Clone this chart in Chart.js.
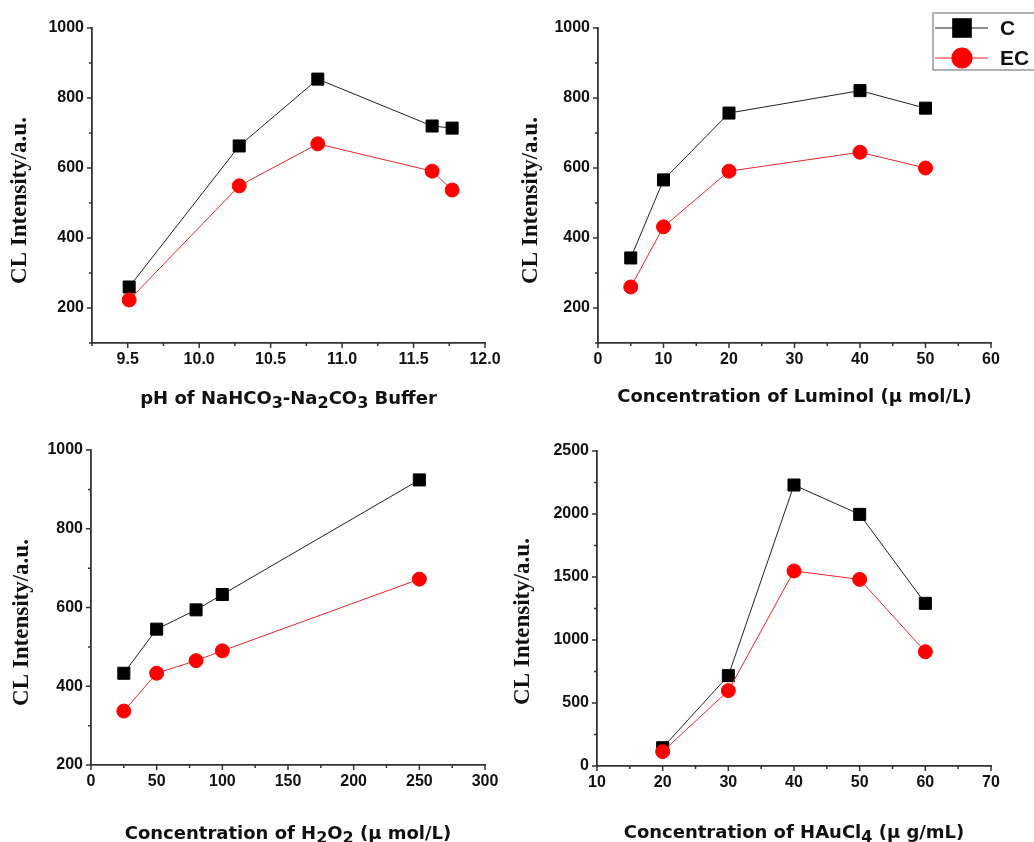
<!DOCTYPE html>
<html>
<head>
<meta charset="utf-8">
<script src="https://cdn.jsdelivr.net/npm/chart.js@4.4.1/dist/chart.umd.min.js"></script>
<style>
  body { margin: 0; background: #fff; }
  #wrap { position: relative; width: 1034px; height: 842px; overflow: hidden; background: #fff; }
  canvas { position: absolute; }
</style>
</head>
<body>
<div id="wrap">
  <canvas id="c1" width="517" height="420" style="left:0;top:0"></canvas>
  <canvas id="c3" width="517" height="422" style="left:0;top:420px"></canvas>
  <canvas id="c2" width="534" height="420" style="left:500px;top:0"></canvas>
  <canvas id="c4" width="534" height="422" style="left:500px;top:420px"></canvas>
</div>
<script>
// series names
var seriesNames = ['C', 'EC'];

// pH of buffer
var phX = [9.51, 10.28, 10.83, 11.63, 11.77];
var phC = [260, 663, 854, 720, 714];
var phEC = [223, 549, 669, 591, 537];
var phXTicks = [9.5, 10.0, 10.5, 11.0, 11.5, 12.0];
var phXMinor = [9.25, 9.75, 10.25, 10.75, 11.25, 11.75];

// luminol
var lumX = [5, 10, 20, 40, 50];
var lumC = [343, 566, 757, 821, 771];
var lumEC = [260, 432, 591, 645, 600];
var lumXTicks = [0, 10, 20, 30, 40, 50, 60];
var lumXMinor = [5, 15, 25, 35, 45, 55];

// top row y ticks
var topYTicks = [200, 400, 600, 800, 1000];
var topYMinor = [100, 300, 500, 700, 900];

// H2O2
var h2o2X = [25, 50, 80, 100, 250];
var h2o2C = [433, 545, 594, 633, 924];
var h2o2EC = [337, 433, 465, 490, 672];
var h2o2XTicks = [0, 50, 100, 150, 200, 250, 300];
var h2o2XMinor = [25, 75, 125, 175, 225, 275];
var h2o2YTicks = [200, 400, 600, 800, 1000];
var h2o2YMinor = [300, 500, 700, 900];

// HAuCl4
var hauX = [20, 30, 40, 50, 60];
var hauC = [145, 717, 2230, 1997, 1291];
var hauEC = [114, 598, 1548, 1481, 907];
var hauXTicks = [10, 20, 30, 40, 50, 60, 70];
var hauXMinor = [15, 25, 35, 45, 55, 65];
var hauYTicks = [0, 500, 1000, 1500, 2000, 2500];
var hauYMinor = [250, 750, 1250, 1750, 2250];

var yTitle = 'CL Intensity/a.u.';
// x titles as [text, isSubscript] pieces
var xTitle1 = [['pH of NaHCO', 0], ['3', 1], ['-Na', 0], ['2', 1], ['CO', 0], ['3', 1], [' Buffer', 0]];
var xTitle2 = [['Concentration of Luminol (\u03bc mol/L)', 0]];
var xTitle3 = [['Concentration of H', 0], ['2', 1], ['O', 0], ['2', 1], [' (\u03bc mol/L)', 0]];
var xTitle4 = [['Concentration of HAuCl', 0], ['4', 1], [' (\u03bc g/mL)', 0]];

var tickFont = { family: '"Liberation Sans", Arial, sans-serif', size: 16, weight: 'bold' };
var axisColor = '#333';

function pts(xs, ys) {
    return xs.map(function (x, i) { return { x: x, y: ys[i] }; });
}

// draws minor/major tick marks, axis titles and (optionally) the legend
var decor = {
    id: 'decor',
    afterDraw: function (chart, args, o) {
        var ctx = chart.ctx, a = chart.chartArea, xs = chart.scales.x, ys = chart.scales.y;
        ctx.save();
        ctx.strokeStyle = axisColor;
        ctx.lineWidth = 1.5;
        ctx.beginPath();
        xs.ticks.forEach(function (t) {
            var px = xs.getPixelForValue(t.value);
            ctx.moveTo(px, a.bottom); ctx.lineTo(px, a.bottom + 5);
        });
        o.xMinor.forEach(function (v) {
            var px = xs.getPixelForValue(v);
            ctx.moveTo(px, a.bottom); ctx.lineTo(px, a.bottom + 3);
        });
        ys.ticks.forEach(function (t) {
            var py = ys.getPixelForValue(t.value);
            ctx.moveTo(a.left, py); ctx.lineTo(a.left - 5, py);
        });
        o.yMinor.forEach(function (v) {
            var py = ys.getPixelForValue(v);
            ctx.moveTo(a.left, py); ctx.lineTo(a.left - 3, py);
        });
        ctx.stroke();

        // y title
        ctx.fillStyle = '#111';
        ctx.font = 'bold 23px "Liberation Serif", "Times New Roman", serif';
        ctx.textAlign = 'center';
        ctx.textBaseline = 'middle';
        ctx.translate(a.left + o.yTitleDx, (a.top + a.bottom) / 2 + o.yTitleDy);
        ctx.rotate(-Math.PI / 2);
        ctx.fillText(yTitle, 0, 0);
        ctx.setTransform(1, 0, 0, 1, 0, 0);

        // x title with subscripts
        var big = 'bold 18px "DejaVu Sans", Verdana, sans-serif';
        var small = 'bold 16px "DejaVu Sans", Verdana, sans-serif';
        var w = 0;
        o.xTitle.forEach(function (p) {
            ctx.font = p[1] ? small : big;
            w += ctx.measureText(p[0]).width;
        });
        var x = (a.left + a.right) / 2 - w / 2;
        var base = a.bottom + o.xTitleDy;
        ctx.textAlign = 'left';
        ctx.textBaseline = 'alphabetic';
        o.xTitle.forEach(function (p) {
            ctx.font = p[1] ? small : big;
            ctx.fillText(p[0], x, base + (p[1] ? 4 : 0));
            x += ctx.measureText(p[0]).width;
        });

        if (o.legend) {
            var L = o.legend;
            ctx.strokeStyle = '#999';
            ctx.lineWidth = 1.5;
            ctx.strokeRect(L.x, L.y, 140, 57);
            chart.data.datasets.forEach(function (ds, i) {
                var cy = L.y + 15 + i * 30;
                ctx.strokeStyle = ds.borderColor;
                ctx.lineWidth = 1.2;
                ctx.beginPath();
                ctx.moveTo(L.x + 2, cy); ctx.lineTo(L.x + 55, cy);
                ctx.stroke();
                ctx.fillStyle = ds.pointBackgroundColor;
                ctx.strokeStyle = ds.pointBackgroundColor;
                Chart.helpers.drawPoint(ctx, {
                    pointStyle: ds.pointStyle,
                    radius: ds.pointStyle === 'rect' ? 13 : 10,
                    borderWidth: 1,
                    rotation: 0
                }, L.x + 29, cy);
                ctx.fillStyle = '#111';
                ctx.font = 'bold 21px "Liberation Sans", Arial, sans-serif';
                ctx.textAlign = 'left';
                ctx.textBaseline = 'middle';
                ctx.fillText(ds.label, L.x + 67, cy + 1);
            });
        }
        ctx.restore();
    }
};

function makeChart(id, xs, cVals, ecVals, xr, yr, xTicks, yTicks, extra, padding) {
    var xDecimals = extra.xDecimals || 0;
    return new Chart(document.getElementById(id), {
        type: 'line',
        data: {
            datasets: [{
                label: seriesNames[0],
                data: pts(xs, cVals),
                borderColor: '#222',
                borderWidth: 1,
                pointStyle: 'rect',
                pointRadius: 8.5,
                pointBackgroundColor: '#000',
                pointBorderColor: '#000',
                pointBorderWidth: 1,
                order: 2
            }, {
                label: seriesNames[1],
                data: pts(xs, ecVals),
                borderColor: '#e8262b',
                borderWidth: 1,
                pointStyle: 'circle',
                pointRadius: 7,
                pointBackgroundColor: '#ff0000',
                pointBorderColor: '#ff0000',
                pointBorderWidth: 1,
                order: 1
            }]
        },
        options: {
            responsive: false,
            animation: false,
            layout: { padding: padding },
            plugins: {
                legend: { display: false },
                tooltip: { enabled: false },
                decor: extra
            },
            scales: {
                x: {
                    type: 'linear',
                    min: xr[0], max: xr[1],
                    grid: { display: false, drawTicks: false },
                    border: { display: true, color: axisColor, width: 1.8 },
                    afterBuildTicks: function (axis) { axis.ticks = xTicks.map(function (v) { return { value: v }; }); },
                    afterFit: function (s) { s.height = extra.xHeight; },
                    ticks: {
                        font: tickFont, color: '#111', padding: 7, maxRotation: 0, autoSkip: false,
                        callback: function (v) { return v.toFixed(xDecimals); }
                    }
                },
                y: {
                    min: yr[0], max: yr[1],
                    grid: { display: false, drawTicks: false },
                    border: { display: true, color: axisColor, width: 1.8 },
                    afterBuildTicks: function (axis) { axis.ticks = yTicks.map(function (v) { return { value: v }; }); },
                    afterFit: function (s) { s.width = extra.yWidth; },
                    ticks: {
                        font: tickFont, color: '#111', padding: 8,
                        callback: function (v) { return String(v); }
                    }
                }
            }
        },
        plugins: [decor]
    });
}

makeChart('c1', phX, phC, phEC, [9.25, 12.0], [100, 1000], phXTicks, topYTicks, {
    xDecimals: 1, xMinor: phXMinor, yMinor: topYMinor, xTitle: xTitle1,
    yTitleDx: -72, yTitleDy: 15, xTitleDy: 61, xHeight: 77, yWidth: 92
}, { left: 0, top: 28, right: 32, bottom: 0 });

makeChart('c2', lumX, lumC, lumEC, [0, 60], [100, 1000], lumXTicks, topYTicks, {
    xMinor: lumXMinor, yMinor: topYMinor, xTitle: xTitle2,
    yTitleDx: -67, yTitleDy: 15, xTitleDy: 59, xHeight: 77, yWidth: 98,
    legend: { x: 433, y: 13 }
}, { left: 0, top: 28, right: 43, bottom: 0 });

makeChart('c3', h2o2X, h2o2C, h2o2EC, [0, 300], [200, 1000], h2o2XTicks, h2o2YTicks, {
    xMinor: h2o2XMinor, yMinor: h2o2YMinor, xTitle: xTitle3,
    yTitleDx: -69, yTitleDy: 15, xTitleDy: 74, xHeight: 77, yWidth: 91
}, { left: 0, top: 30, right: 32, bottom: 0 });

makeChart('c4', hauX, hauC, hauEC, [10, 70], [0, 2500], hauXTicks, hauYTicks, {
    xMinor: hauXMinor, yMinor: hauYMinor, xTitle: xTitle4,
    yTitleDx: -74, yTitleDy: 13, xTitleDy: 72, xHeight: 76, yWidth: 97
}, { left: 0, top: 31, right: 43, bottom: 0 });
</script>
</body>
</html>
